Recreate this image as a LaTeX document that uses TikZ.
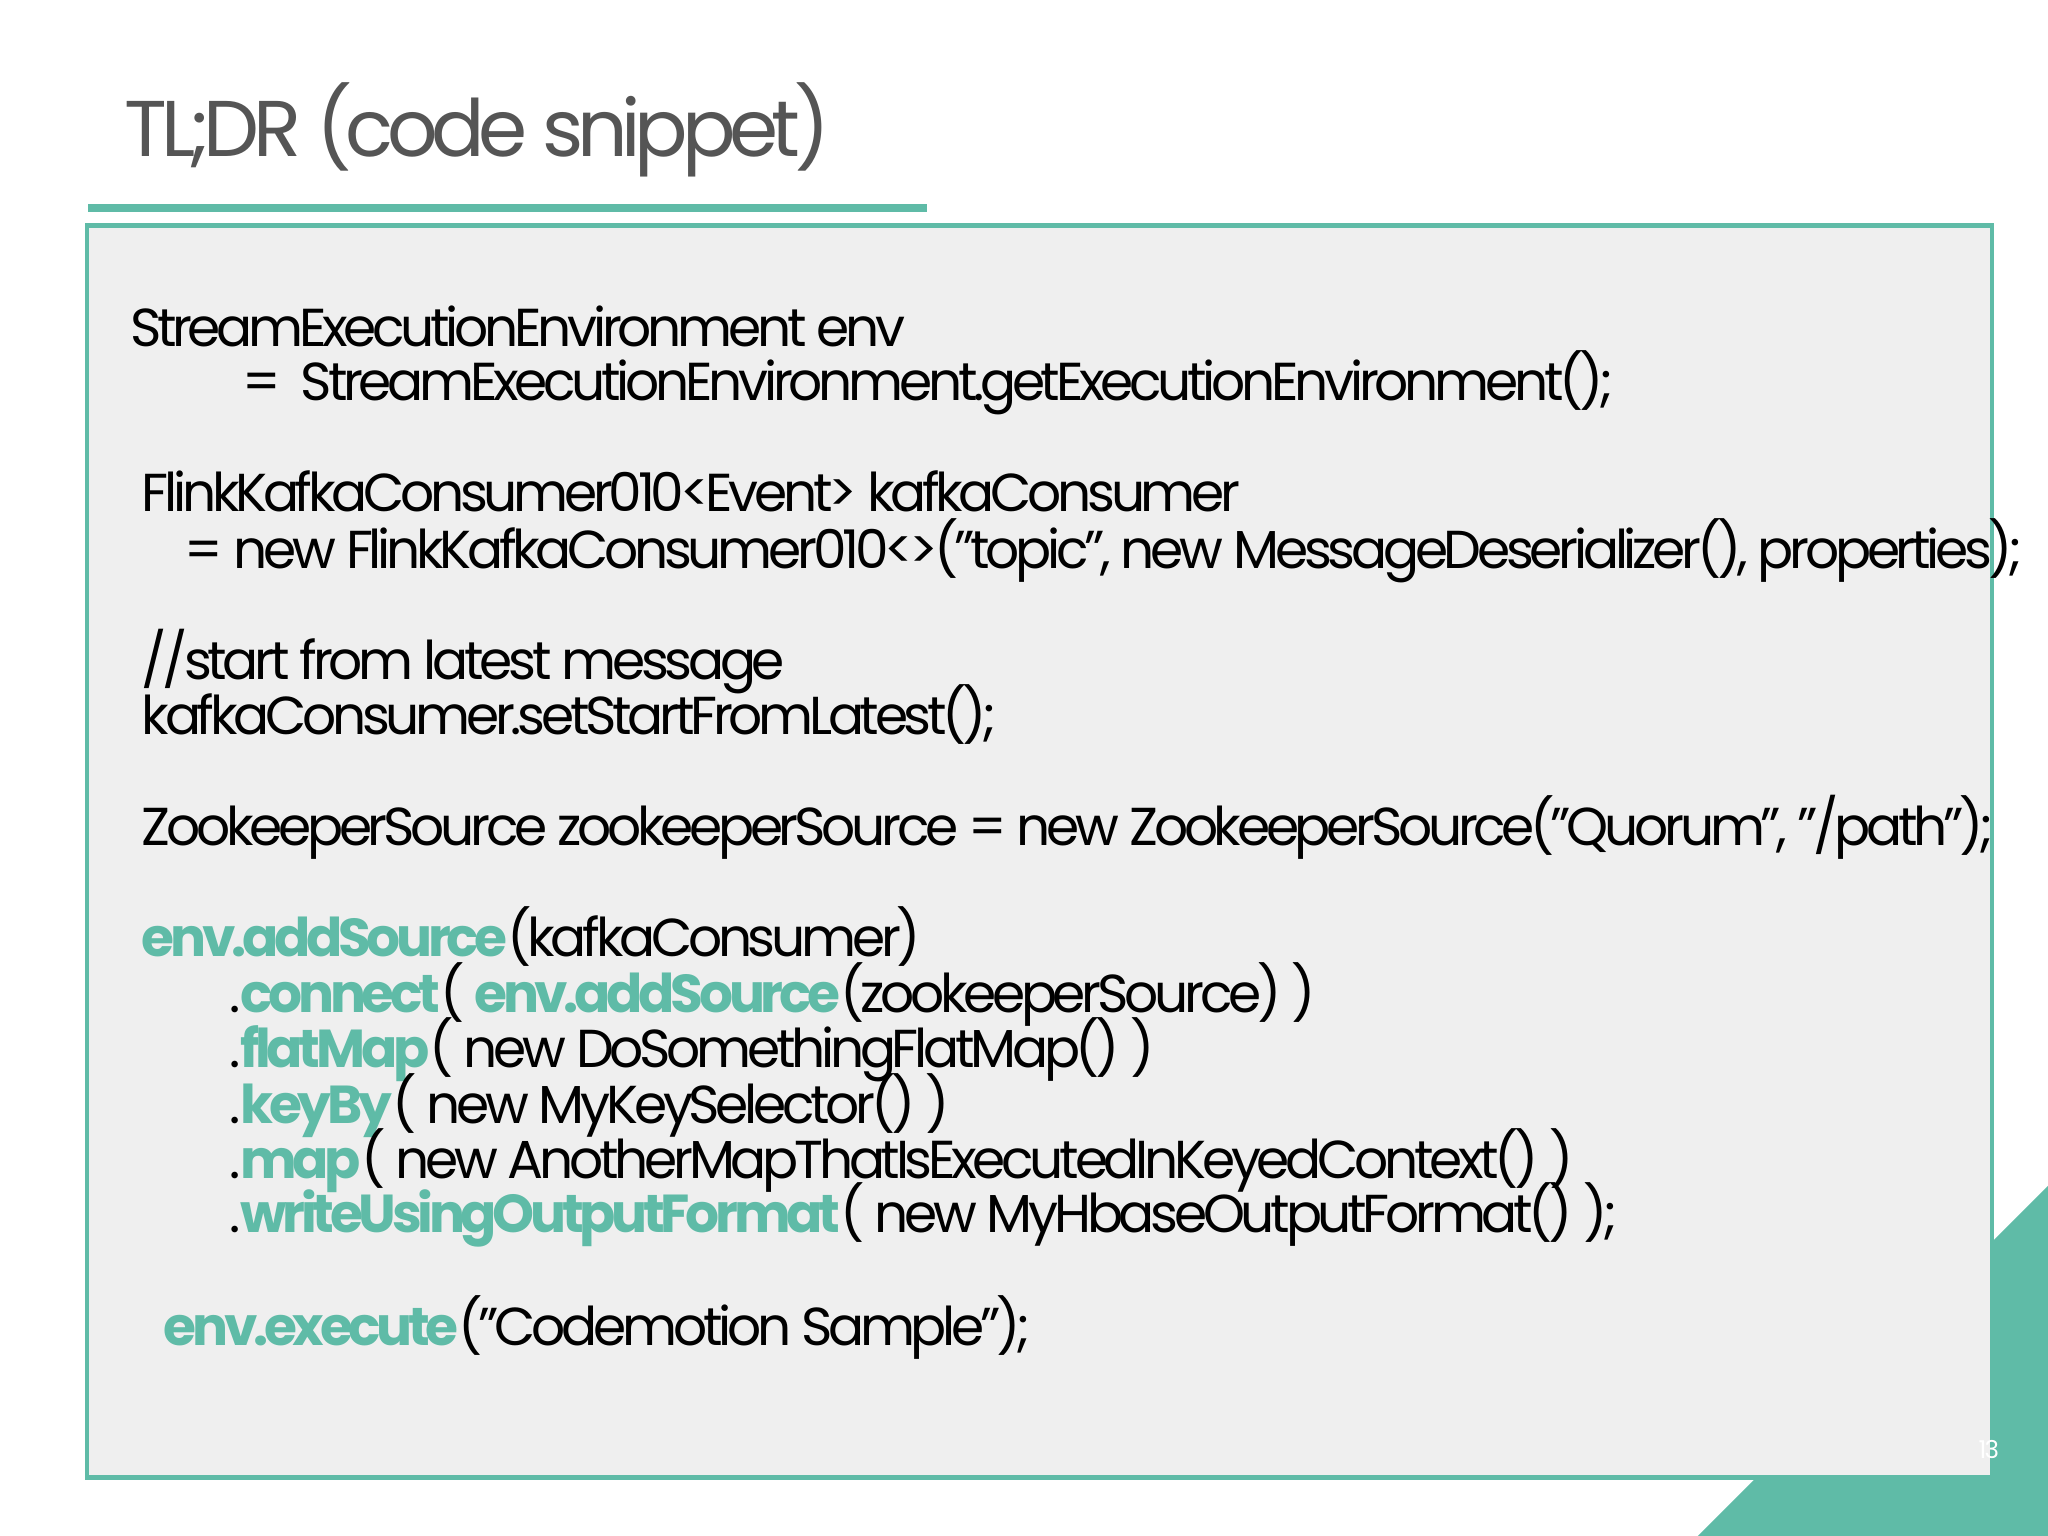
\documentclass[tikz,border=0pt]{standalone}
\usepackage{fontspec}
\setmainfont[LetterSpace=-8]{Poppins}
\definecolor{teal1}{HTML}{5FBBA7}
\definecolor{boxbg}{HTML}{EFEFEF}
\definecolor{titlegray}{HTML}{555555}
\tikzset{
 code/.style={anchor=base west,inner sep=0pt,font=\fontsize{15.2}{18}\selectfont,text=black}
}
\newcommand{\kwd}[1]{{\bfseries\color{teal1}#1}}
\newcommand{\qq}{\symbol{34}}
\begin{document}
\begin{tikzpicture}[x=0.013061cm,y=-0.013061cm]
\useasboundingbox (0,0) rectangle (1568,1176);
\fill[white] (0,0) rectangle (1568,1176);
\fill[teal1] (1300,1176) -- (1568,1176) -- (1568,908) -- cycle;
\draw[teal1,line width=1.5pt] (67,173) rectangle (1525,1131);
\fill[boxbg] (68.5,174.5) rectangle (1523.5,1129.5);
\node[anchor=base west,inner sep=0pt,font=\fontsize{22.5}{26}\selectfont,text=titlegray] (title) at (95,120) {TL;DR (code snippet)};
\fill[teal1] (67,156) rectangle (710,162);
\node[anchor=base east,inner sep=0pt,font=\fontsize{7}{8}\selectfont,text=white] (pg) at (1531,1117) {13};
\node[code] (l1) at (99,265) {StreamExecutionEnvironment env};
\node[code] (l2) at (185,307) {=\ \ StreamExecutionEnvironment.getExecutionEnvironment();};
\node[code] (l3) at (108,392) {FlinkKafkaConsumer010<Event> kafkaConsumer};
\node[code] (l4) at (141,435) {= new FlinkKafkaConsumer010<>(\qq topic\qq, new MessageDeserializer(), properties);};
\node[code] (l5) at (108,520) {//start from latest message};
\node[code] (l6) at (108,562) {kafkaConsumer.setStartFromLatest();};
\node[code] (l7) at (108,647) {ZookeeperSource zookeeperSource = new ZookeeperSource(\qq Quorum\qq, \qq/path\qq);};
\node[code] (l8) at (108,732) {\kwd{env.addSource}(kafkaConsumer)};
\node[code] (l9) at (175,775) {.\kwd{connect}( \kwd{env.addSource}(zookeeperSource) )};
\node[code] (l10) at (175,817) {.\kwd{flatMap}( new DoSomethingFlatMap() )};
\node[code] (l11) at (175,860) {.\kwd{keyBy}( new MyKeySelector() )};
\node[code] (l12) at (175,902) {.\kwd{map}( new AnotherMapThatIsExecutedInKeyedContext() )};
\node[code] (l13) at (175,944) {.\kwd{writeUsingOutputFormat}( new MyHbaseOutputFormat() );};
\node[code] (l14) at (125,1030) {\kwd{env.execute}(\qq Codemotion Sample\qq);};
\end{tikzpicture}
\end{document}
